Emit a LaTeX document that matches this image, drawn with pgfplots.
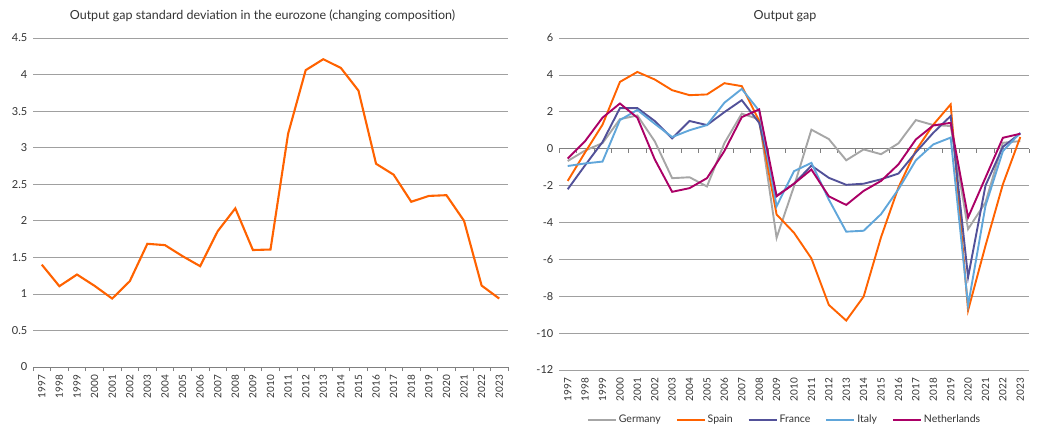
\documentclass[border=0pt]{standalone}
\usepackage{pgfplots}
\pgfplotsset{compat=1.18}
\usepackage{pgfplotstable}
\usepackage{fontspec}
\setmainfont{Lato}
\definecolor{cGer}{HTML}{A6A6A6}
\definecolor{cSpa}{HTML}{FF6200}
\definecolor{cFra}{HTML}{525199}
\definecolor{cIta}{HTML}{60A6DA}
\definecolor{cNet}{HTML}{AB0066}
\definecolor{cGrid}{HTML}{A0A0A0}
\definecolor{cAxis}{HTML}{808080}
\definecolor{cText}{HTML}{333333}

\pgfplotstableread{
year sd
1997 1.40
1998 1.105
1999 1.265
2000 1.11
2001 0.936
2002 1.173
2003 1.685
2004 1.667
2005 1.516
2006 1.379
2007 1.858
2008 2.17
2009 1.60
2010 1.607
2011 3.19
2012 4.06
2013 4.21
2014 4.09
2015 3.78
2016 2.78
2017 2.63
2018 2.26
2019 2.34
2020 2.35
2021 2.00
2022 1.114
2023 0.936
}\sdtable

\pgfplotstableread{
year Ger Spa Fra Ita Net
1997 -0.67 -1.75 -2.20 -0.94 -0.54
1998 -0.10 -0.20 -0.90 -0.80 0.41
1999 0.30 1.30 0.36 -0.70 1.68
2000 1.60 3.62 2.20 1.55 2.45
2001 1.80 4.16 2.20 2.10 1.68
2002 0.40 3.75 1.50 1.35 -0.58
2003 -1.60 3.17 0.56 0.63 -2.34
2004 -1.55 2.90 1.50 1.00 -2.14
2005 -2.05 2.94 1.28 1.28 -1.60
2006 0.30 3.55 1.98 2.49 -0.13
2007 1.90 3.39 2.63 3.24 1.71
2008 1.59 1.50 1.40 2.05 2.13
2009 -4.83 -3.57 -2.56 -3.12 -2.58
2010 -2.04 -4.56 -1.90 -1.22 -1.90
2011 1.03 -5.95 -0.92 -0.77 -1.13
2012 0.52 -8.47 -1.58 -2.76 -2.58
2013 -0.63 -9.32 -1.96 -4.50 -3.05
2014 -0.04 -8.02 -1.90 -4.45 -2.29
2015 -0.30 -4.80 -1.66 -3.55 -1.75
2016 0.29 -2.10 -1.35 -2.20 -0.85
2017 1.55 -0.10 -0.20 -0.63 0.50
2018 1.28 1.30 0.86 0.23 1.26
2019 1.23 2.40 1.77 0.60 1.40
2020 -4.36 -8.77 -6.97 -8.50 -3.73
2021 -2.92 -5.26 -2.00 -3.10 -1.57
2022 0.32 -1.93 0.10 -0.13 0.59
2023 0.41 0.63 0.83 0.86 0.81
}\gaptable

\begin{document}
\begin{tikzpicture}
\path[use as bounding box] (0pt,0pt) rectangle (1047pt,440pt);
\pgfplotsset{
  common/.style={
    scale only axis,
    xmin=-0.5, xmax=26.5,
    xtick={0,1,...,26},
    xticklabels={1997,1998,1999,2000,2001,2002,2003,2004,2005,2006,2007,2008,2009,2010,2011,2012,2013,2014,2015,2016,2017,2018,2019,2020,2021,2022,2023},
    major x tick style={draw=none},
    minor xtick={-0.5,0.5,...,26.5},
    minor x tick style={draw=cAxis, line width=0.6pt},
    minor tick length=4pt,
    tick align=outside,
    x tick label style={rotate=90, anchor=east, font=\fontsize{10}{11}\selectfont, text=cText},
    y tick label style={font=\fontsize{11}{12}\selectfont, text=cText},
    axis y line=left,
    y axis line style={draw=none},
    major y tick style={draw=none},
    ymajorgrids,
    grid style={draw=cGrid, line width=0.6pt},
    axis x line*=bottom,
    clip=false,
    title style={font=\fontsize{12.5}{14}\selectfont, text=cText, yshift=7pt},
  }
}
\begin{axis}[common,
  at={(33pt,73pt)}, width=475pt, height=329pt,
  ymin=0, ymax=4.5, ytick={0,0.5,...,4.5},
  yticklabels={0,0.5,1,1.5,2,2.5,3,3.5,4,4.5},
  x axis line style={draw=cAxis, line width=0.6pt},
  title={Output gap standard deviation in the eurozone (changing composition)},
  title style={xshift=-8pt},
]
\addplot[cSpa, line width=2.1pt] table[x expr=\thisrow{year}-1997, y=sd] {\sdtable};
\end{axis}

\begin{axis}[common,
  at={(559pt,70pt)}, width=470pt, height=332pt,
  ymin=-12, ymax=6, ytick={-12,-10,...,6},
  yticklabels={-12,-10,-8,-6,-4,-2,0,2,4,6},
  minor x tick style={draw=none},
  x axis line style={draw=cGrid, line width=0.6pt},
  title={Output gap},
  title style={xshift=-9pt},
  legend columns=5,
  legend style={at={(axis description cs:0.48,-0.15)}, anchor=center, draw=none, fill=none,
    font=\fontsize{10.5}{12}\selectfont, text=cText,
    /tikz/every even column/.append style={column sep=13pt}},
  legend image code/.code={\draw[#1] (0pt,0pt) -- (28pt,0pt);},
]
\draw[cAxis, line width=0.6pt] (axis cs:-0.5,0) -- (axis cs:26.5,0);
\pgfplotsinvokeforeach{-0.5,0.5,1.5,2.5,3.5,4.5,5.5,6.5,7.5,8.5,9.5,10.5,11.5,12.5,13.5,14.5,15.5,16.5,17.5,18.5,19.5,20.5,21.5,22.5,23.5,24.5,25.5,26.5}{
  \draw[cAxis, line width=0.6pt] (axis cs:#1,0) -- ([yshift=-4pt]axis cs:#1,0);
}
\addplot[cGer, line width=1.9pt] table[x expr=\thisrow{year}-1997, y=Ger] {\gaptable};
\addlegendentry{Germany}
\addplot[cSpa, line width=1.9pt] table[x expr=\thisrow{year}-1997, y=Spa] {\gaptable};
\addlegendentry{Spain}
\addplot[cFra, line width=1.9pt] table[x expr=\thisrow{year}-1997, y=Fra] {\gaptable};
\addlegendentry{France}
\addplot[cIta, line width=1.9pt] table[x expr=\thisrow{year}-1997, y=Ita] {\gaptable};
\addlegendentry{Italy}
\addplot[cNet, line width=1.9pt] table[x expr=\thisrow{year}-1997, y=Net] {\gaptable};
\addlegendentry{Netherlands}
\end{axis}
\end{tikzpicture}
\end{document}
